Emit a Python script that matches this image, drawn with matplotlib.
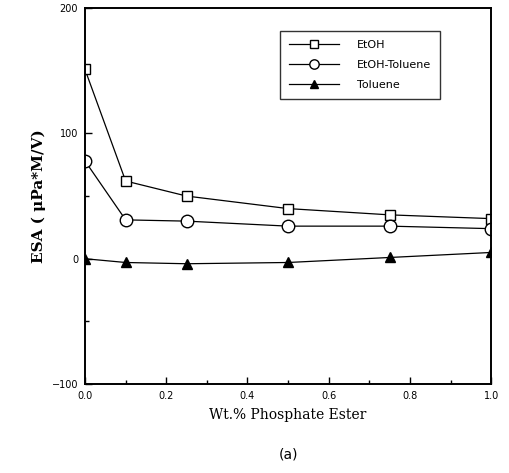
import matplotlib
matplotlib.use("Agg")
import matplotlib.pyplot as plt
from matplotlib.ticker import MultipleLocator

# data
wt = [0.0, 0.1, 0.25, 0.5, 0.75, 1.0]
etoh = [151, 62, 50, 40, 35, 32]
etoh_toluene = [78, 31, 30, 26, 26, 24]
toluene = [0, -3, -4, -3, 1, 5]
xticks = [0.0, 0.2, 0.4, 0.6, 0.8, 1.0]
yticks = [-100, 0, 100, 200]

fig = plt.figure(figsize=(5.09, 4.73), dpi=100)
ax = fig.add_axes([0.167, 0.188, 0.798, 0.795])

ax.plot(wt, etoh, 'k-', lw=0.9, marker='s', ms=7, mfc='white', mec='black', mew=1.0, label='EtOH')
ax.plot(wt, etoh_toluene, 'k-', lw=0.9, marker='o', ms=9, mfc='white', mec='black', mew=1.0, label='EtOH-Toluene')
ax.plot(wt, toluene, 'k-', lw=0.9, marker='^', ms=7, mfc='black', mec='black', label='Toluene')

ax.set_xlim(0, 1.0)
ax.set_ylim(-100, 200)
ax.set_xticks(xticks)
ax.set_xticklabels([f'{t:.1f}' for t in xticks])
ax.set_yticks(yticks)
ax.xaxis.set_minor_locator(MultipleLocator(0.1))
ax.yaxis.set_minor_locator(MultipleLocator(50))
ax.tick_params(which='both', direction='in', labelsize=7, width=1)
ax.tick_params(which='major', length=5, pad=5)
ax.tick_params(which='minor', length=3)
for s in ax.spines.values():
    s.set_linewidth(1.4)

ax.set_ylabel('ESA ( \u03bcPa*M/V)', fontfamily='DejaVu Serif', fontweight='bold', fontsize=11)
ax.set_xlabel('Wt.% Phosphate Ester', fontfamily='DejaVu Serif', fontsize=10, labelpad=5)
fig.text(0.566, 0.03, '(a)', ha='center', fontsize=10)

leg = ax.legend(loc='upper right', bbox_to_anchor=(0.874, 0.939), borderaxespad=0, fontsize=8,
                frameon=True, fancybox=False, edgecolor='black', handlelength=4.5,
                handletextpad=1.6, labelspacing=0.9, borderpad=0.8, markerscale=0.75)
leg.get_frame().set_linewidth(1.0)

fig.savefig('out.png', dpi=100)
